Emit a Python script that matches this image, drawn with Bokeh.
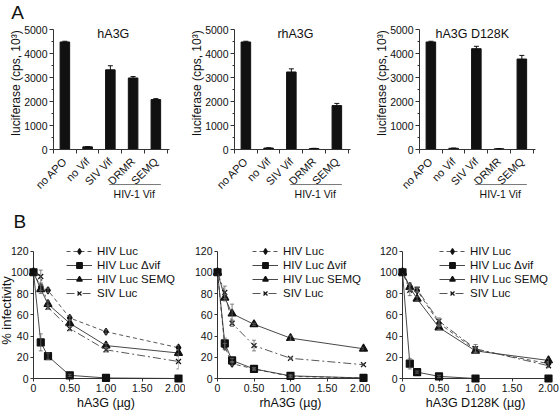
import math
from bokeh.plotting import figure
from bokeh.layouts import column, row
from bokeh.models import (FixedTicker, Whisker, ColumnDataSource, Range1d,
                          NumeralTickFormatter, Legend, LegendItem, TeeHead)
from bokeh.core.properties import value
from bokeh.embed import file_html
from bokeh.resources import INLINE

FONT = "Liberation Sans"
AX = "#333333"
INK = "#111111"

# ---------------- Panel A data ----------------
bar_categories = ["no APO", "no Vif", "SIV Vif", "DRMR", "SEMQ"]
group_label = "HIV-1 Vif"
a_titles = ["hA3G", "rhA3G", "hA3G D128K"]
hA3G_luc = [4480, 110, 3320, 2980, 2080]
hA3G_luc_err = [30, 10, 170, 60, 40]
rhA3G_luc = [4480, 60, 3230, 40, 1830]
rhA3G_luc_err = [30, 10, 130, 10, 90]
d128k_luc = [4480, 50, 4200, 30, 3770]
d128k_luc_err = [30, 10, 100, 10, 150]
a_yticks = [0, 1000, 2000, 3000, 4000, 5000]

# ---------------- Panel B data ----------------
doses = [0, 0.1, 0.2, 0.5, 1.0, 2.0]
series_names = ["HIV Luc", "HIV Luc \u0394vif", "HIV Luc SEMQ", "SIV Luc"]
b_xlabels = ["hA3G (\u00b5g)", "rhA3G (\u00b5g)", "hA3G D128K (\u00b5g)"]
b_yticks = [0, 20, 40, 60, 80, 100, 120]
b_xticks = [0, 0.5, 1.0, 1.5, 2.0]

hA3G_hiv = [100, 86, 83, 57, 44, 29]
hA3G_dvif = [100, 34, 21, 3, 0.5, 0]
hA3G_semq = [100, 84, 70, 52, 31, 24]
hA3G_siv = [100, 96, 67, 47, 27, 16]
hA3G_hiv_err = [0, 3, 2, 2, 2, 2]
hA3G_dvif_err = [0, 8, 3, 1, 0, 0]
hA3G_semq_err = [0, 4, 3, 3, 2, 3]
hA3G_siv_err = [0, 6, 2, 2, 2, 7]

rhA3G_hiv = [100, 30, 14, 9, 2, 0.5]
rhA3G_dvif = [100, 33, 17, 9, 2.5, 0.5]
rhA3G_semq = [100, 76, 61, 51, 38, 28]
rhA3G_siv = [100, 81, 52, 31, 19, 13]
rhA3G_hiv_err = [0, 3, 2, 1, 1, 0]
rhA3G_dvif_err = [0, 5, 2, 1, 1, 0]
rhA3G_semq_err = [0, 3, 9, 1, 2, 1]
rhA3G_siv_err = [0, 6, 3, 5, 1, 1]

d128k_hiv = [100, 87, 83, 52, 27, 14]
d128k_dvif = [100, 14, 6, 2, 0, 0]
d128k_semq = [100, 86, 75, 48, 26, 17]
d128k_siv = [100, 83, 84, 54, 28, 12]
d128k_hiv_err = [0, 3, 2, 3, 2, 2]
d128k_dvif_err = [0, 5, 1, 1, 0, 0]
d128k_semq_err = [0, 3, 2, 2, 2, 2]
d128k_siv_err = [0, 5, 2, 3, 4, 2]

TOP_H = 204
BOT_H = 210

series_styles = [
    dict(dash="4 3", marker="diamond", size=7, color="#444444"),
    dict(dash="solid", marker="square", size=7, color="#333333"),
    dict(dash="solid", marker="triangle", size=8, color="#333333"),
    dict(dash="8 3 2 3", marker="x", size=7, color="#444444"),
]


def style_axes(p):
    for ax in p.axis:
        ax.axis_line_color = AX
        ax.major_tick_line_color = AX
        ax.minor_tick_line_color = AX
        ax.major_label_text_font = FONT
        ax.major_label_text_font_size = "10px"
        ax.major_label_text_color = INK
        ax.axis_label_text_font = FONT
        ax.axis_label_text_font_style = "normal"
        ax.axis_label_text_color = INK
    p.grid.visible = False
    p.outline_line_color = None


def text_glyph(p, x, y, text, size, angle=0.0, align="center"):
    p.text(x=[x], y=[y], text=[text], angle=angle, text_align=align,
           text_baseline="middle", text_font=value(FONT),
           text_font_size=value(size), text_color=INK, level="overlay")


def bar_panel(vals, errs, title, title_x, width, bl, br, letter=None):
    p = figure(width=width, height=TOP_H, x_range=Range1d(0, 5.1), y_range=Range1d(0, 5000),
               min_border_left=bl, min_border_right=br, min_border_top=29,
               min_border_bottom=TOP_H - 149, output_backend="svg", toolbar_location=None)
    xs = [i + 0.5 for i in range(len(bar_categories))]
    src = ColumnDataSource(dict(x=xs, top=vals,
                                upper=[v + e for v, e in zip(vals, errs)],
                                lower=[v - e for v, e in zip(vals, errs)]))
    p.vbar(x="x", top="top", width=0.42, source=src, fill_color=INK, line_color=INK)
    p.add_layout(Whisker(base="x", upper="upper", lower="lower", source=src,
                         line_color=INK, line_width=1, level="overlay",
                         upper_head=TeeHead(size=5, line_color=INK),
                         lower_head=TeeHead(size=5, line_color=INK)))
    style_axes(p)
    p.xaxis.ticker = FixedTicker(ticks=xs, minor_ticks=list(range(len(bar_categories) + 1)))
    p.xaxis.major_label_overrides = {x: c for x, c in zip(xs, bar_categories)}
    p.xaxis.major_label_orientation = math.pi / 4
    p.xaxis.major_label_text_font_size = "11px"
    p.xaxis.major_tick_out = 0
    p.xaxis.major_tick_in = 0
    p.xaxis.minor_tick_out = 4
    p.xaxis.minor_tick_in = 0
    p.xaxis.major_label_standoff = 6
    p.yaxis.ticker = FixedTicker(ticks=a_yticks,
                                 minor_ticks=[t + 500 for t in a_yticks[:-1]])
    p.yaxis.major_label_text_font_size = "10.5px"
    p.yaxis.major_tick_out = 4
    p.yaxis.major_tick_in = 0
    p.yaxis.minor_tick_out = 2
    p.yaxis.minor_tick_in = 0
    p.yaxis.major_label_standoff = 2
    # title inside the frame
    text_glyph(p, title_x, 4800, title, "12.5px")
    # y label
    text_glyph(p, -1.67, 2770, "luciferase (cps, 10\u00b3)", "12px", angle=math.pi / 2)
    # group bracket
    p.line(x=[2.45, 4.72], y=[-1460, -1460], line_color="#777777", line_width=1, level="overlay")
    text_glyph(p, 3.55, -1870, group_label, "10.5px")
    if letter:
        text_glyph(p, -1.58, 5700, letter, "19px")
    return p


def line_panel(vals_list, errs_list, xlabel, width, bl, br, leg_x, letter=None, ylabel=None):
    p = figure(width=width, height=BOT_H, x_range=Range1d(0, 2.0), y_range=Range1d(0, 128),
               min_border_left=bl, min_border_right=br, min_border_top=38,
               min_border_bottom=36, output_backend="svg", toolbar_location=None)
    items = []
    for name, vals, errs, st in zip(series_names, vals_list, errs_list, series_styles):
        ex = [d for d, e in zip(doses, errs) if e > 0]
        eu = [v + e for v, e in zip(vals, errs) if e > 0]
        el = [v - e for v, e in zip(vals, errs) if e > 0]
        if ex:
            wsrc = ColumnDataSource(dict(x=ex, upper=eu, lower=el))
            p.add_layout(Whisker(base="x", upper="upper", lower="lower", source=wsrc,
                                 line_color="#666666", line_width=0.8, level="overlay",
                                 upper_head=TeeHead(size=4, line_color="#666666", line_width=0.8),
                                 lower_head=TeeHead(size=4, line_color="#666666", line_width=0.8)))
        lr = p.line(doses, vals, line_color=st["color"], line_width=0.9,
                    line_dash=st["dash"], level="overlay")
        mr = p.scatter(doses, vals, marker=st["marker"], size=st["size"],
                       fill_color=INK, line_color=INK, line_width=1.2, level="overlay")
        items.append(LegendItem(label=name, renderers=[lr, mr]))
    style_axes(p)
    p.xaxis.ticker = FixedTicker(ticks=b_xticks)
    p.xaxis.formatter = NumeralTickFormatter(format="0.00")
    p.xaxis.major_label_overrides = {0: "0"}
    p.xaxis.major_label_text_font_size = "10.5px"
    p.xaxis.major_tick_out = 3
    p.xaxis.major_tick_in = 0
    p.xaxis.minor_tick_line_color = None
    p.xaxis.major_label_standoff = 2
    p.xaxis.axis_label = xlabel
    p.xaxis.axis_label_text_font_size = "12.5px"
    p.xaxis.axis_label_standoff = 1
    p.yaxis.ticker = FixedTicker(ticks=b_yticks)
    p.yaxis.bounds = (0, 120)
    p.yaxis.major_label_text_font_size = "10.5px"
    p.yaxis.major_tick_out = 3
    p.yaxis.major_tick_in = 0
    p.yaxis.minor_tick_line_color = None
    p.yaxis.major_label_standoff = 2
    leg = Legend(items=items, location=(leg_x, 78), glyph_width=26, glyph_height=14,
                 label_height=14, label_standoff=5, spacing=0, padding=0, margin=0,
                 border_line_color=None, background_fill_alpha=0,
                 label_text_font=FONT, label_text_font_size="11.5px", label_text_color=INK)
    p.add_layout(leg, "center")
    if ylabel:
        text_glyph(p, -0.37, 64, ylabel, "13px", angle=math.pi / 2)
    if letter:
        text_glyph(p, -0.19, 148, letter, "19px")
    return p


a1 = bar_panel(hA3G_luc, hA3G_luc_err, a_titles[0], 2.63, 185, 53, 16, letter="A")
a2 = bar_panel(rhA3G_luc, rhA3G_luc_err, a_titles[1], 2.68, 185, 49, 20)
a3 = bar_panel(d128k_luc, d128k_luc_err, a_titles[2], 2.32, 190, 49, 25)

b1 = line_panel([hA3G_hiv, hA3G_dvif, hA3G_semq, hA3G_siv],
                [hA3G_hiv_err, hA3G_dvif_err, hA3G_semq_err, hA3G_siv_err],
                b_xlabels[0], 185, 33, 7, 33, letter="B", ylabel="% infectivity")
b2 = line_panel([rhA3G_hiv, rhA3G_dvif, rhA3G_semq, rhA3G_siv],
                [rhA3G_hiv_err, rhA3G_dvif_err, rhA3G_semq_err, rhA3G_siv_err],
                b_xlabels[1], 185, 32, 7, 35)
b3 = line_panel([d128k_hiv, d128k_dvif, d128k_semq, d128k_siv],
                [d128k_hiv_err, d128k_dvif_err, d128k_semq_err, d128k_siv_err],
                b_xlabels[2], 190, 32, 12, 37)

layout = column(row(a1, a2, a3), row(b1, b2, b3))
open("out.html", "w").write(file_html(layout, INLINE))
